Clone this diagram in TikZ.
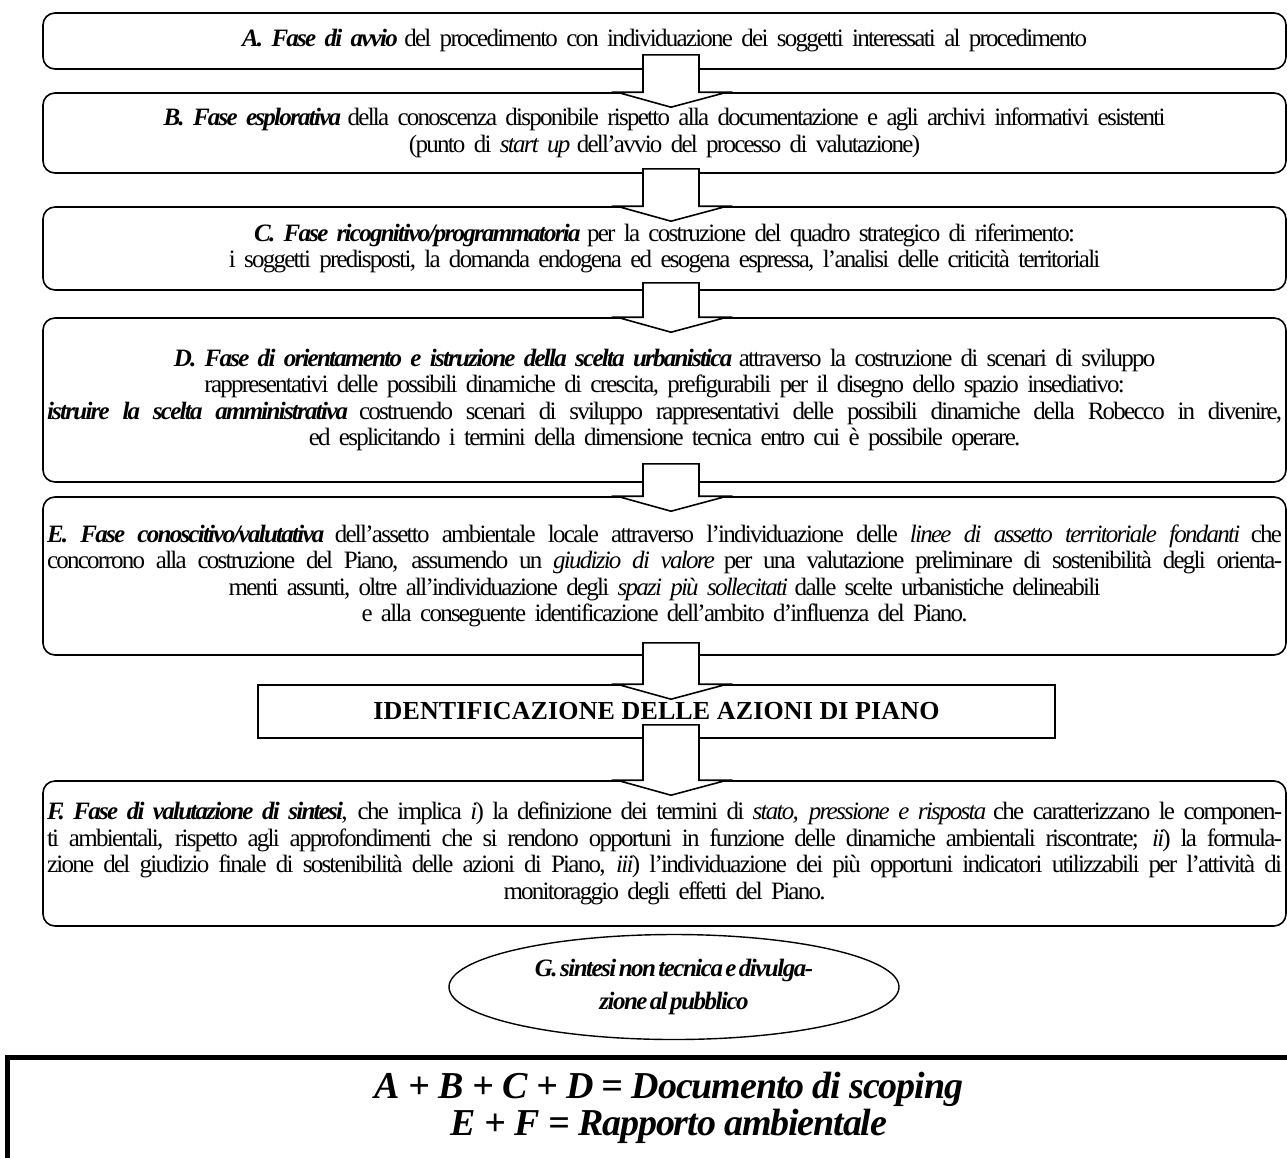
\documentclass[tikz,border=0pt]{standalone}
\usepackage{fontspec}
\setmainfont{Liberation Serif}[LetterSpace=-7, WordSpace=0.5]
\newfontfamily\sumfont{Liberation Serif}[LetterSpace=-3]
\newfontfamily\keyfont{Liberation Serif}[LetterSpace=0.5]
\usetikzlibrary{calc,shapes.geometric}

\newcommand\bi[1]{\textbf{\textit{#1}}}
% a line set to the full measure of its box
\newcommand\fullline[1]{\leavevmode\hbox to \linewidth{\spaceskip=0.1em plus 1em\relax #1}}

\tikzset{
  phase/.style={draw, line width=1.6pt, rounded corners=12pt,
    minimum width=1243pt, text width=1235pt, align=center, inner sep=0pt,
    font=\fontsize{25}{26.5}\selectfont},
  bigarrow/.style={draw, line width=1.6pt, fill=white, line join=miter},
  keybox/.style={draw, line width=1.6pt, minimum width=797pt, minimum height=53pt,
    font=\fontsize{26}{30}\keyfont\bfseries},
  oval/.style={draw, ellipse, line width=1.4pt, minimum width=450pt, minimum height=105pt,
    inner xsep=-30pt, inner ysep=-10pt, align=center,
    font=\fontsize{25}{33}\selectfont\bfseries\itshape\addfontfeature{LetterSpace=-6}},
  summary/.style={align=center, font=\fontsize{38}{37}\sumfont\bfseries\itshape},
}

% block arrow from the bottom of one box into the top of the next
\newcommand\flowarrow[3]{%
  \path ($(#1.south)+(0,-#3)$) coordinate (s) (#2.north) coordinate (b);
  \draw[bigarrow] (s -| xl) -- (s -| xr) -- (b -| xr) -- (b -| hr)
    -- ($(b -| xc)+(0,15)$) -- (b -| hl) -- (b -| xl) -- cycle;
}

\begin{document}
\begin{tikzpicture}[x=1pt, y=-1pt]
\useasboundingbox (0,0) rectangle (1287,1157);
\coordinate (xl) at (643,0);
\coordinate (xr) at (699,0);
\coordinate (hl) at (617,0);
\coordinate (hr) at (727,0);
\coordinate (xc) at (671,0);

\node[phase, minimum height=56pt] (A) at (664.5,41)
  {\bi{A. Fase di avvio} del procedimento con individuazione dei soggetti interessati al procedimento};

\node[phase, minimum height=80pt] (B) at (664.5,133)
  {\bi{B. Fase esplorativa} della conoscenza disponibile rispetto alla documentazione e agli archivi informativi esistenti\\
   (punto di \textit{start up} dell'avvio del processo di valutazione)};

\node[phase, minimum height=83pt] (C) at (664.5,248.5)
  {\bi{C. Fase ricognitivo/programmatoria} per la costruzione del quadro strategico di riferimento:\\
   i soggetti predisposti, la domanda endogena ed esogena espressa, l'analisi delle criticità territoriali};

\node[phase, minimum height=164pt] (D) at (664.5,400)
  {\bi{D. Fase di orientamento e istruzione della scelta urbanistica} attraverso la costruzione di scenari di sviluppo\\
   rappresentativi delle possibili dinamiche di crescita, prefigurabili per il disegno dello spazio insediativo:\\
   \fullline{\bi{istruire la scelta amministrativa} costruendo scenari di sviluppo rappresentativi delle possibili dinamiche della Robecco in divenire,}\\
   ed esplicitando i termini della dimensione tecnica entro cui è possibile operare.};

\node[phase, minimum height=158pt] (E) at (664.5,576)
  {\fullline{\bi{E. Fase conoscitivo/valutativa} dell'assetto ambientale locale attraverso l'individuazione delle \textit{linee di assetto territoriale fondanti} che}\\
   \fullline{concorrono alla costruzione del Piano, assumendo un \textit{giudizio di valore} per una valutazione preliminare di sostenibilità degli orienta-}\\
   menti assunti, oltre all'individuazione degli \textit{spazi più sollecitati} dalle scelte urbanistiche delineabili\\
   e alla conseguente identificazione dell'ambito d'influenza del Piano.};

\node[keybox] (I) at (656.5,711.5) {IDENTIFICAZIONE DELLE AZIONI DI PIANO};

\node[phase, minimum height=145pt] (F) at (664.5,853.5)
  {\fullline{\bi{F. Fase di valutazione di sintesi}, che implica \textit{i}) la definizione dei termini di \textit{stato, pressione e risposta} che caratterizzano le componen-}\\
   \fullline{ti ambientali, rispetto agli approfondimenti che si rendono opportuni in funzione delle dinamiche ambientali riscontrate; \textit{ii}) la formula-}\\
   \fullline{zione del giudizio finale di sostenibilità delle azioni di Piano, \textit{iii}) l'individuazione dei più opportuni indicatori utilizzabili per l'attività di}\\
   monitoraggio degli effetti del Piano.};

\node[oval] (G) at (674,987) {G. sintesi non tecnica e divulga-\\zione al pubblico};

\draw[line width=5pt] (7,1165) -- (7,1057) -- (1295,1057);
\node[summary] (S) at (669,1108)
  {A + B + C + D = Documento di scoping\\E + F = Rapporto ambientale};

\flowarrow{A}{B}{15}
\flowarrow{B}{C}{5}
\flowarrow{C}{D}{8}
\flowarrow{D}{E}{19}
\flowarrow{E}{I}{13}
\flowarrow{I}{F}{14}
\end{tikzpicture}
\end{document}
